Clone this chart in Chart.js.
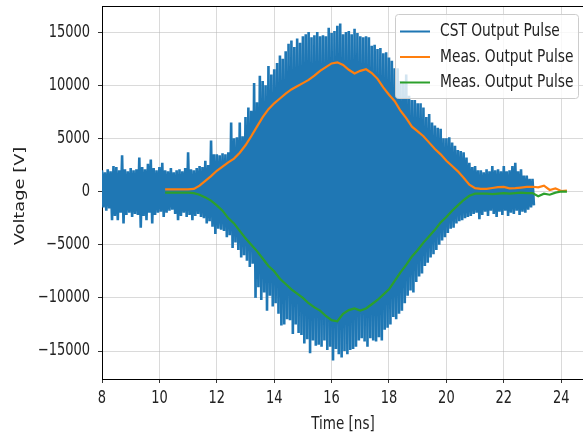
<!DOCTYPE html>
<html>
<head>
<meta charset="utf-8">
<script src="https://cdn.jsdelivr.net/npm/chart.js@4/dist/chart.umd.min.js"></script>
<style>
  html, body { margin: 0; padding: 0; background: #fff; }
  #wrap { width: 583px; height: 434px; }
</style>
</head>
<body>
<div id="wrap"><canvas id="myChart" width="583" height="434"></canvas></div>
<script>
// time axis of the simulated pulse [ns]
const cstTime = [
  8.0, 8.1, 8.2, 8.3, 8.4, 8.5, 8.6, 8.7, 8.8, 8.9,
  9.0, 9.1, 9.2, 9.3, 9.4, 9.5, 9.6, 9.7, 9.8, 9.9,
  10.0, 10.1, 10.2, 10.3, 10.4, 10.5, 10.6, 10.7, 10.8, 10.9,
  11.0, 11.1, 11.2, 11.3, 11.4, 11.5, 11.6, 11.7, 11.8, 11.9,
  12.0, 12.1, 12.2, 12.3, 12.4, 12.5, 12.6, 12.7, 12.8, 12.9,
  13.0, 13.1, 13.2, 13.3, 13.4, 13.5, 13.6, 13.7, 13.8, 13.9,
  14.0, 14.1, 14.2, 14.3, 14.4, 14.5, 14.6, 14.7, 14.8, 14.9,
  15.0, 15.1, 15.2, 15.3, 15.4, 15.5, 15.6, 15.7, 15.8, 15.9,
  16.0, 16.1, 16.2, 16.3, 16.4, 16.5, 16.6, 16.7, 16.8, 16.9,
  17.0, 17.1, 17.2, 17.3, 17.4, 17.5, 17.6, 17.7, 17.8, 17.9,
  18.0, 18.1, 18.2, 18.3, 18.4, 18.5, 18.6, 18.7, 18.8, 18.9,
  19.0, 19.1, 19.2, 19.3, 19.4, 19.5, 19.6, 19.7, 19.8, 19.9,
  20.0, 20.1, 20.2, 20.3, 20.4, 20.5, 20.6, 20.7, 20.8, 20.9,
  21.0, 21.1, 21.2, 21.3, 21.4, 21.5, 21.6, 21.7, 21.8, 21.9,
  22.0, 22.1, 22.2, 22.3, 22.4, 22.5, 22.6, 22.7, 22.8, 22.9,
  23.0
];
// positive peaks of the CST signal [V]
const cstHigh = [
  2000, 1800, 2100, 1900, 2400, 2300, 2000, 3400, 2100, 1900,
  2200, 2000, 2100, 3200, 2300, 2100, 2600, 3000, 2200, 2000,
  2300, 2700, 2000, 1900, 2200, 1800, 2000, 2100, 1900, 2200,
  3700, 2100, 2000, 2200, 2400, 2300, 2900, 2500, 4800, 3500,
  3500, 3400, 3600, 3500, 3700, 6500, 5000, 5100, 6500, 5200,
  7000, 7900, 7600, 10200, 8400, 10900, 10400, 10000, 11800, 11000,
  11500, 12100, 12800, 12500, 13200, 13900, 14200, 13600, 14400, 14000,
  14600, 14800, 15000, 14500, 14700, 15000, 14600, 14700, 14600, 15400,
  14900, 15100, 15600, 15800, 14800, 15000, 15100, 14800, 15300, 14900,
  14600, 14500, 14600, 14500, 13700, 13800, 13400, 13500, 13000, 13100,
  12600, 12300, 11600, 11600, 10400, 10400, 11000, 9000, 8600, 8600,
  8300, 8300, 7900, 7000, 7300, 6500, 6200, 6000, 5900, 5000,
  5000, 5100, 4600, 4300, 3900, 3800, 3700, 3200, 2700, 2300,
  2400, 2000, 2000, 1800, 2100, 1900, 2400, 2000, 2100, 1900,
  2400, 1900, 2000, 2400, 2700, 1900, 2100, 1500, 1500, 1200,
  1200
];
// negative peaks of the CST signal [V]
const cstLow = [
  -1500, -1800, -1600, -2700, -2300, -2700, -2000, -3000, -2200, -2000,
  -2400, -2100, -2200, -3400, -2300, -2700, -2000, -3000, -2200, -2000,
  -1900, -2400, -2000, -1800, -1700, -2100, -2700, -2300, -2000, -2400,
  -2200, -2700, -2300, -2100, -2400, -2500, -3000, -2800, -3300, -4000,
  -3500, -3600, -3700, -4300, -4100, -5300, -4800, -5500, -6200, -6000,
  -6500, -7100, -6800, -10000, -9000, -10200, -9500, -11200, -9800, -10800,
  -10500, -11500, -12600, -12500, -12000, -12100, -13400, -12500, -13300, -13500,
  -14300, -13900, -15200, -14000, -14500, -14400, -14600, -14000, -14900, -14600,
  -15900, -14800, -15300, -15600, -15000, -15300, -14900, -14800, -14600, -14000,
  -13800, -14100, -14600, -13800, -14000, -14100, -13700, -14000, -13000, -12800,
  -12500, -11800, -12000, -11500, -11200, -10500, -9800, -9300, -9500, -8500,
  -8000, -7700, -7000, -6700, -6200, -5900, -5500, -5000, -4600, -4300,
  -3900, -3500, -3400, -3000, -2800, -2700, -2500, -2400, -2300, -2100,
  -2000, -2600, -2200, -1900, -2300, -1800, -2100, -2400, -1900, -2200,
  -1800, -2300, -2000, -2100, -1800, -2200, -1900, -2000, -1700, -1500,
  -1300
];

// measured envelopes
const measTime = [
  10.2, 10.4, 10.6, 10.8, 11.0, 11.2, 11.4, 11.6, 11.8, 12.0,
  12.2, 12.4, 12.6, 12.8, 13.0, 13.2, 13.4, 13.6, 13.8, 14.0,
  14.2, 14.4, 14.6, 14.8, 15.0, 15.2, 15.4, 15.6, 15.8, 16.0,
  16.2, 16.4, 16.6, 16.8, 17.0, 17.2, 17.4, 17.6, 17.8, 18.0,
  18.2, 18.4, 18.6, 18.8, 19.0, 19.2, 19.4, 19.6, 19.8, 20.0,
  20.2, 20.4, 20.6, 20.8, 21.0, 21.2, 21.4, 21.6, 21.8, 22.0,
  22.2, 22.4, 22.6, 22.8, 23.0, 23.2, 23.4, 23.6, 23.8, 24.0,
  24.2
];
const measPos = [
  200, 200, 200, 200, 200, 250, 550, 1000, 1450, 1950,
  2350, 2750, 3100, 3650, 4350, 5200, 6100, 7000, 7750, 8300,
  8750, 9200, 9600, 9900, 10200, 10500, 10900, 11350, 11700, 12050,
  12150, 11900, 11450, 11100, 11350, 11500, 11150, 10600, 9800, 9100,
  8500, 7600, 6900, 6100, 5650, 5200, 4600, 4000, 3500, 2900,
  2400, 1900, 1300, 650, 320, 250, 250, 330, 420, 430,
  300, 320, 370, 430, 450, 400, 550, 150, 300, 50,
  100
];
const measNeg = [
  -100, -100, -100, -100, -100, -150, -300, -550, -850, -1300,
  -1800, -2500, -3000, -3700, -4400, -5000, -5600, -6300, -7000, -7500,
  -8200, -8700, -9200, -9600, -10000, -10500, -10900, -11200, -11700, -12100,
  -12200, -11500, -11150, -11000, -11200, -11000, -10600, -10200, -9700, -9200,
  -8400, -7600, -6900, -6100, -5500, -4800, -4200, -3600, -2900, -2400,
  -1800, -1300, -800, -400, -200, -200, -200, -250, -200, -150,
  -200, -150, -100, -150, -150, -450, -200, -300, -100, 0,
  0
];

const xTicks = [8, 10, 12, 14, 16, 18, 20, 22, 24];
const yTicks = [-15000, -10000, -5000, 0, 5000, 10000, 15000];

const seriesNames = ["CST Output Pulse", "Meas. Output Pulse", "Meas. Output Pulse"];
const seriesColors = ["#1f77b4", "#ff7f0e", "#2ca02c"];

// peak, then trough half a step later
const cstPoints = [];
cstTime.forEach((t, i) => {
  cstPoints.push({ x: t, y: cstHigh[i] });
  cstPoints.push({ x: t + 0.05, y: cstLow[i] });
});
const posPoints = measTime.map((t, i) => ({ x: t, y: measPos[i] }));
const negPoints = measTime.map((t, i) => ({ x: t, y: measNeg[i] }));

const font = "'DejaVu Sans', sans-serif";
const stretch = 1.32; // the picture's text is taller than it is wide

function tallText(ctx, str, x, y, align, rotate) {
  ctx.save();
  ctx.translate(x, y);
  if (rotate) {
    ctx.rotate(-Math.PI / 2);
    ctx.scale(stretch, 1);
  } else {
    ctx.scale(1, stretch);
  }
  ctx.textAlign = align;
  ctx.textBaseline = "middle";
  ctx.fillText(str, 0, 0);
  ctx.restore();
}

const minus = (v) => (v < 0 ? "\u2212" + Math.abs(v) : String(v));

const textAndLegend = {
  id: "textAndLegend",
  afterDraw(chart) {
    const { ctx, chartArea, scales } = chart;
    ctx.save();
    // top spine
    ctx.strokeStyle = "#000";
    ctx.lineWidth = 1;
    ctx.beginPath();
    ctx.moveTo(chartArea.left, chartArea.top + 0.5);
    ctx.lineTo(chartArea.right, chartArea.top + 0.5);
    ctx.stroke();

    ctx.fillStyle = "#222";
    ctx.font = "13px " + font;
    yTicks.forEach((v) => tallText(ctx, minus(v), 90, scales.y.getPixelForValue(v), "right"));
    xTicks.forEach((v) => tallText(ctx, String(v), scales.x.getPixelForValue(v), 399, "center"));
    ctx.font = "13.5px " + font;
    tallText(ctx, "Time [ns]", 343, 424, "center");
    tallText(ctx, "Voltage [V]", 20, 196, "center", true);

    // legend box
    const bx = 395.5, by = 14.5, bw = 183, bh = 84;
    ctx.fillStyle = "rgba(255,255,255,0.8)";
    ctx.strokeStyle = "#cccccc";
    ctx.lineWidth = 1;
    ctx.beginPath();
    ctx.roundRect(bx, by, bw, bh, 3);
    ctx.fill();
    ctx.stroke();

    ctx.font = "13.8px " + font;
    chart.data.datasets.forEach((ds, i) => {
      const y = 31.5 + i * 25.5;
      ctx.strokeStyle = ds.borderColor;
      ctx.lineWidth = 2;
      ctx.beginPath();
      ctx.moveTo(400, y);
      ctx.lineTo(430, y);
      ctx.stroke();
      ctx.fillStyle = "#222";
      tallText(ctx, ds.label, 440, y, "left");
    });
    ctx.restore();
  }
};

const config = {
  type: "line",
  data: {
    datasets: [
      { label: seriesNames[0], data: cstPoints, borderColor: seriesColors[0], borderWidth: 2.6, order: 3 },
      { label: seriesNames[1], data: posPoints, borderColor: seriesColors[1], borderWidth: 2.2, order: 2 },
      { label: seriesNames[2], data: negPoints, borderColor: seriesColors[2], borderWidth: 2.2, order: 1 }
    ]
  },
  options: {
    responsive: false,
    animation: false,
    layout: { padding: { top: 6, right: 0, bottom: 0, left: 0 } },
    elements: { point: { radius: 0 }, line: { tension: 0 } },
    plugins: { legend: { display: false }, tooltip: { enabled: false } },
    scales: {
      x: {
        type: "linear",
        min: 8,
        max: 24.76,
        afterBuildTicks: (s) => { s.ticks = xTicks.map((v) => ({ value: v })); },
        afterFit: (s) => { s.height = 55; },
        border: { display: true, color: "#000", width: 1 },
        grid: { color: "rgba(176,176,176,0.6)", lineWidth: 0.8, tickColor: "#000", tickLength: 4 },
        ticks: { display: false }
      },
      y: {
        min: -17630,
        max: 17450,
        afterBuildTicks: (s) => { s.ticks = yTicks.map((v) => ({ value: v })); },
        afterFit: (s) => { s.width = 102; },
        border: { display: true, color: "#000", width: 1 },
        grid: { color: "rgba(176,176,176,0.6)", lineWidth: 0.8, tickColor: "#000", tickLength: 4 },
        ticks: { display: false }
      }
    }
  },
  plugins: [textAndLegend]
};

new Chart(document.getElementById("myChart"), config);
</script>
</body>
</html>
